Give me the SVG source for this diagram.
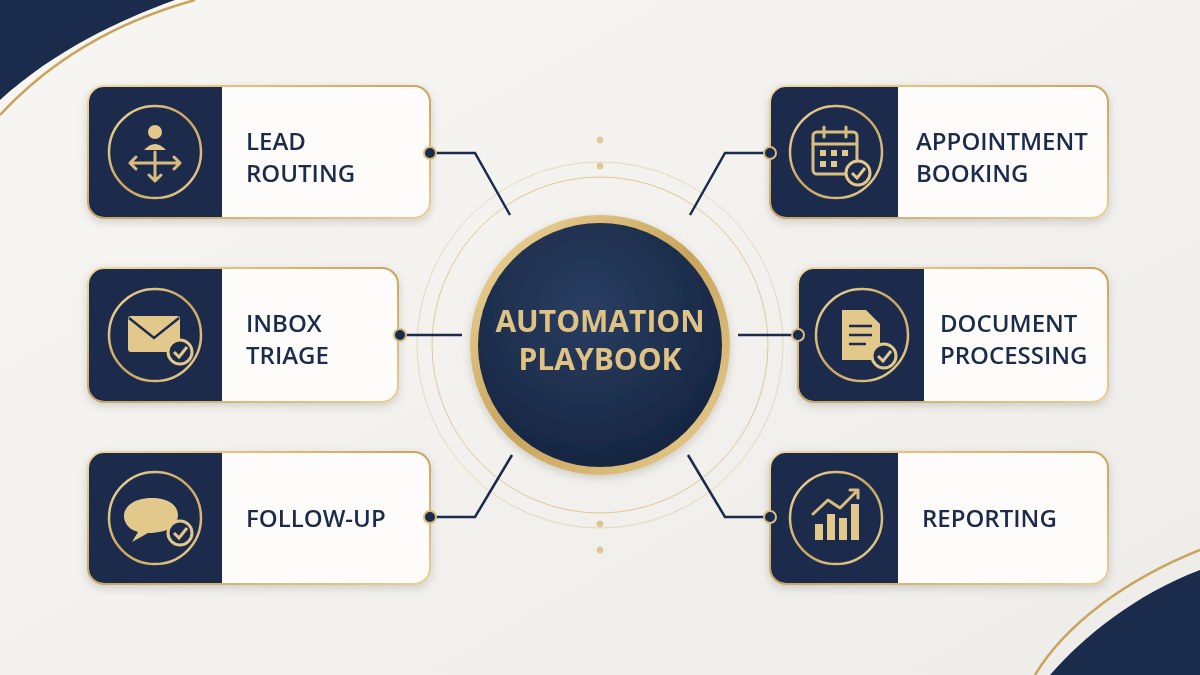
<svg xmlns="http://www.w3.org/2000/svg" width="1200" height="675" viewBox="0 0 1200 675">
<defs>
<linearGradient id="bg" x1="0" y1="0" x2="1" y2="1"><stop offset="0" stop-color="#f7f6f3"/><stop offset="1" stop-color="#eeece8"/></linearGradient>
<linearGradient id="gold" x1="0" y1="0" x2="1" y2="1"><stop offset="0" stop-color="#f0d9a0"/><stop offset="0.5" stop-color="#c9a45c"/><stop offset="1" stop-color="#e8cf93"/></linearGradient>
<radialGradient id="core" cx="0.45" cy="0.35" r="0.7"><stop offset="0" stop-color="#2a3e62"/><stop offset="1" stop-color="#15243f"/></radialGradient>
<filter id="sh" x="-10%" y="-10%" width="120%" height="130%"><feDropShadow dx="0" dy="3" stdDeviation="4" flood-color="#000" flood-opacity="0.15"/></filter>
</defs>
<style>
.card{fill:#fdfcfa;stroke:url(#gold);stroke-width:2}
.dark{fill:#1b2b4b}
.ring{fill:none;stroke:url(#gold);stroke-width:2.5}
.lbl{font-family:"Open Sans","Liberation Sans",sans-serif;font-weight:600;font-size:24px;fill:#1b2b4b}
.ic{fill:none;stroke:#d9bd80;stroke-width:3;stroke-linecap:round;stroke-linejoin:round}
.icf{fill:#e3c88c}
.con{fill:none;stroke:#1b2b4b;stroke-width:2.5}
.dot{fill:#1b2b4b;stroke:#d9bd80;stroke-width:2}
</style>
<rect width="1200" height="675" fill="url(#bg)"/>
<path d="M0 0 H175 C120 20 55 50 0 100 Z" fill="#1b2b4b"/>
<path d="M0 115 C60 50 130 18 195 0" fill="none" stroke="#c9a45c" stroke-width="2.5"/>
<path d="M1200 570 C1135 595 1085 635 1050 675 H1200 Z" fill="#1b2b4b"/>
<path d="M1200 550 C1125 580 1065 625 1035 675" fill="none" stroke="#c9a45c" stroke-width="2.5"/>

<g id="orbits" fill="none" stroke="#d9bd80" stroke-width="1" opacity="0.8">
<circle cx="600" cy="345" r="168"/><circle cx="600" cy="345" r="183" opacity="0.6"/>
<circle cx="600" cy="140" r="3" fill="#d9bd80"/><circle cx="600" cy="166" r="3" fill="#d9bd80"/>
<circle cx="600" cy="524" r="3" fill="#d9bd80"/><circle cx="600" cy="550" r="3" fill="#d9bd80"/>
</g>

<g id="center" filter="url(#sh)">
<circle cx="600" cy="345" r="130" fill="url(#gold)"/>
<circle cx="600" cy="345" r="122" fill="url(#core)"/>
<text x="600" y="332" text-anchor="middle" font-family="'Open Sans','Liberation Sans',sans-serif" font-weight="700" font-size="30" fill="#e0c384">AUTOMATION</text>
<text x="600" y="370" text-anchor="middle" font-family="'Open Sans','Liberation Sans',sans-serif" font-weight="700" font-size="30" fill="#e0c384">PLAYBOOK</text>
</g>

<g id="lead" filter="url(#sh)">
<rect class="card" x="88" y="86" width="342" height="132" rx="16"/>
<path class="dark" d="M104 87 H222 V217 H104 A15 15 0 0 1 89 202 V102 A15 15 0 0 1 104 87Z"/>
<circle class="ring" cx="155" cy="152" r="46"/>
<circle class="icf" cx="155" cy="132" r="7"/><path class="icf" d="M144 150 Q155 138 166 150Z"/>
<path class="ic" d="M155 152 V180 M130 163 H180 M136 157 L130 163 L136 169 M174 157 L180 163 L174 169 M149 175 L155 181 L161 175"/>
<text class="lbl" x="246" y="150">LEAD</text><text class="lbl" x="246" y="182">ROUTING</text>
</g>

<g id="inbox" filter="url(#sh)">
<rect class="card" x="88" y="268" width="310" height="134" rx="16"/>
<path class="dark" d="M104 269 H222 V401 H104 A15 15 0 0 1 89 386 V284 A15 15 0 0 1 104 269Z"/>
<circle class="ring" cx="155" cy="335" r="46"/>
<rect x="128" y="316" width="52" height="36" rx="3" class="icf"/><path d="M129 318 L154 338 L179 318" fill="none" stroke="#1b2b4b" stroke-width="2.5"/>
<circle cx="180" cy="352" r="12" fill="#1b2b4b" stroke="#e3c88c" stroke-width="3"/><path d="M174 352 L179 357 L187 347" fill="none" stroke="#e3c88c" stroke-width="3"/>
<text class="lbl" x="246" y="332">INBOX</text><text class="lbl" x="246" y="364">TRIAGE</text>
</g>

<g id="followup" filter="url(#sh)">
<rect class="card" x="88" y="452" width="342" height="132" rx="16"/>
<path class="dark" d="M104 453 H222 V583 H104 A15 15 0 0 1 89 568 V468 A15 15 0 0 1 104 453Z"/>
<circle class="ring" cx="155" cy="518" r="46"/>
<path class="icf" d="M152 498 C132 498 124 508 124 516 C124 524 130 530 138 532 L132 542 L148 533 C170 533 178 524 178 515 C178 505 168 498 152 498Z"/>
<circle cx="180" cy="533" r="12" fill="#1b2b4b" stroke="#e3c88c" stroke-width="3"/><path d="M174 533 L179 538 L187 528" fill="none" stroke="#e3c88c" stroke-width="3"/>
<text class="lbl" x="246" y="527">FOLLOW-UP</text>
</g>

<g id="appt" filter="url(#sh)">
<rect class="card" x="770" y="86" width="338" height="132" rx="16"/>
<path class="dark" d="M786 87 H898 V217 H786 A15 15 0 0 1 771 202 V102 A15 15 0 0 1 786 87Z"/>
<circle class="ring" cx="836" cy="152" r="46"/>
<rect class="ic" x="813" y="132" width="44" height="42" rx="4"/><path class="ic" d="M813 144 H857 M824 127 V137 M846 127 V137"/>
<g class="icf"><rect x="820" y="150" width="6" height="6"/><rect x="831" y="150" width="6" height="6"/><rect x="842" y="150" width="6" height="6"/><rect x="820" y="161" width="6" height="6"/><rect x="831" y="161" width="6" height="6"/></g>
<circle cx="858" cy="173" r="12" fill="#1b2b4b" stroke="#e3c88c" stroke-width="3"/><path d="M852 173 L857 178 L865 168" fill="none" stroke="#e3c88c" stroke-width="3"/>
<text class="lbl" x="916" y="150">APPOINTMENT</text><text class="lbl" x="916" y="182">BOOKING</text>
</g>

<g id="doc" filter="url(#sh)">
<rect class="card" x="798" y="268" width="310" height="134" rx="16"/>
<path class="dark" d="M814 269 H924 V401 H814 A15 15 0 0 1 799 386 V284 A15 15 0 0 1 814 269Z"/>
<circle class="ring" cx="862" cy="335" r="46"/>
<path class="icf" d="M842 310 H866 L880 324 V360 H842Z"/><path d="M849 326 H872 M849 335 H872 M849 344 H866" stroke="#1b2b4b" stroke-width="2.5"/>
<circle cx="884" cy="356" r="12" fill="#1b2b4b" stroke="#e3c88c" stroke-width="3"/><path d="M878 356 L883 361 L891 351" fill="none" stroke="#e3c88c" stroke-width="3"/>
<text class="lbl" x="940" y="332">DOCUMENT</text><text class="lbl" x="940" y="364">PROCESSING</text>
</g>

<g id="report" filter="url(#sh)">
<rect class="card" x="770" y="452" width="338" height="132" rx="16"/>
<path class="dark" d="M786 453 H898 V583 H786 A15 15 0 0 1 771 568 V468 A15 15 0 0 1 786 453Z"/>
<circle class="ring" cx="836" cy="518" r="46"/>
<g class="icf"><rect x="815" y="524" width="8" height="16"/><rect x="827" y="514" width="8" height="26"/><rect x="839" y="518" width="8" height="22"/><rect x="851" y="504" width="8" height="36"/></g>
<path class="ic" d="M813 514 L828 500 L840 508 L858 490 M850 490 H858 V498"/>
<text class="lbl" x="922" y="527">REPORTING</text>
</g>

<g id="connectors">
<path class="con" d="M430 153 H475 L510 215"/><circle class="dot" cx="430" cy="153" r="6"/>
<path class="con" d="M400 335 H462"/><circle class="dot" cx="400" cy="335" r="6"/>
<path class="con" d="M430 517 H475 L512 455"/><circle class="dot" cx="430" cy="517" r="6"/>
<path class="con" d="M770 153 H725 L690 215"/><circle class="dot" cx="770" cy="153" r="6"/>
<path class="con" d="M798 335 H738"/><circle class="dot" cx="798" cy="335" r="6"/>
<path class="con" d="M770 517 H725 L688 455"/><circle class="dot" cx="770" cy="517" r="6"/>
</g>
</svg>
